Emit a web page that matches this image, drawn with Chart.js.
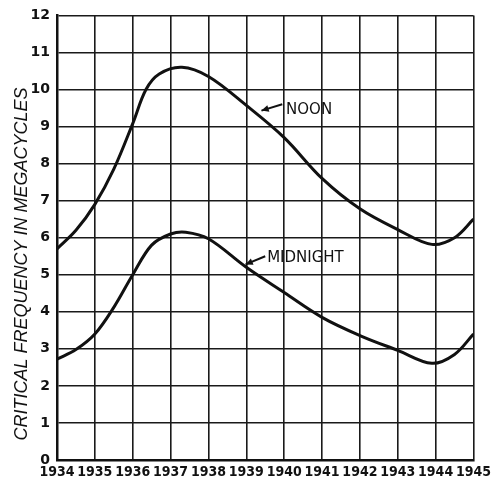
<!DOCTYPE html>
<html>
<head>
<meta charset="utf-8">
<script src="https://cdn.jsdelivr.net/npm/chart.js@4.4.0/dist/chart.umd.min.js"></script>
<style>
  html, body { margin: 0; padding: 0; background: #fff; }
  #wrap { width: 495px; height: 482px; position: relative; }
</style>
</head>
<body>
<div id="wrap"><canvas id="freqChart"></canvas></div>
<script>
// Readings taken off the old ionosphere chart (year, megacycles)
const noonYears = [1934, 1934.5, 1935, 1935.5, 1936, 1936.35, 1936.7, 1937.3, 1938, 1939, 1940, 1941, 1942, 1943, 1943.9, 1944.5, 1945];
const noonFreq  = [5.7, 6.2, 6.9, 7.85, 9.08, 10.0, 10.42, 10.6, 10.35, 9.57, 8.7, 7.6, 6.78, 6.22, 5.82, 6.0, 6.5];

const midnightYears = [1934, 1934.5, 1935, 1935.5, 1936, 1936.5, 1937, 1937.4, 1938, 1939, 1940, 1941, 1942, 1943, 1943.9, 1944.5, 1945];
const midnightFreq  = [2.72, 2.98, 3.4, 4.12, 5.0, 5.8, 6.1, 6.15, 5.97, 5.2, 4.52, 3.85, 3.36, 2.96, 2.61, 2.85, 3.4];

const yearTicks = [1934, 1935, 1936, 1937, 1938, 1939, 1940, 1941, 1942, 1943, 1944, 1945];
const freqTicks = [0, 1, 2, 3, 4, 5, 6, 7, 8, 9, 10, 11, 12];

const yTitle = "CRITICAL FREQUENCY IN MEGACYCLES";

// curve labels with little arrows: [text, textX, textY, tailX, tailY, tipX, tipY] in data units
const curveNotes = [
  ["NOON", 1940.05, 9.45, 1939.95, 9.6, 1939.4, 9.43],
  ["MIDNIGHT", 1939.55, 5.45, 1939.5, 5.5, 1938.98, 5.28]
];

const toPts = (xs, ys) => xs.map((x, i) => ({ x: x, y: ys[i] }));

const notesPlugin = {
  id: "notes",
  afterDraw(chart) {
    const { ctx, scales: { x, y } } = chart;
    ctx.save();
    ctx.fillStyle = "#111";
    ctx.strokeStyle = "#111";
    ctx.font = "15px 'DejaVu Sans', sans-serif";
    ctx.textBaseline = "middle";
    curveNotes.forEach(n => {
      ctx.fillText(n[0], x.getPixelForValue(n[1]), y.getPixelForValue(n[2]));
      const tx = x.getPixelForValue(n[3]), ty = y.getPixelForValue(n[4]);
      const hx = x.getPixelForValue(n[5]), hy = y.getPixelForValue(n[6]);
      ctx.lineWidth = 2;
      ctx.beginPath();
      ctx.moveTo(tx, ty);
      ctx.lineTo(hx, hy);
      ctx.stroke();
      const a = Math.atan2(hy - ty, hx - tx);
      ctx.beginPath();
      ctx.moveTo(hx, hy);
      ctx.lineTo(hx - 8 * Math.cos(a - 0.45), hy - 8 * Math.sin(a - 0.45));
      ctx.lineTo(hx - 8 * Math.cos(a + 0.45), hy - 8 * Math.sin(a + 0.45));
      ctx.closePath();
      ctx.fill();
    });
    // rotated axis title
    ctx.font = "italic 18px 'Liberation Sans', 'DejaVu Sans', sans-serif";
    ctx.textAlign = "center";
    ctx.translate(22, 264);
    ctx.rotate(-Math.PI / 2);
    ctx.fillText(yTitle, 0, 0);
    ctx.restore();
  }
};

new Chart(document.getElementById("freqChart"), {
  type: "line",
  data: {
    datasets: [
      { label: "Noon", data: toPts(noonYears, noonFreq), borderColor: "#111", borderWidth: 3, pointRadius: 0, tension: 0.35, fill: false },
      { label: "Midnight", data: toPts(midnightYears, midnightFreq), borderColor: "#111", borderWidth: 3, pointRadius: 0, tension: 0.35, fill: false }
    ]
  },
  options: {
    responsive: true,
    maintainAspectRatio: false,
    animation: false,
    layout: { padding: { top: 14, right: 20, left: 0, bottom: 0 } },
    plugins: { legend: { display: false }, tooltip: { enabled: false } },
    scales: {
      x: {
        type: "linear",
        min: 1934,
        max: 1945,
        afterBuildTicks: s => { s.ticks = yearTicks.map(v => ({ value: v })); },
        afterFit: s => { s.height = 22; },
        grid: { color: "#1a1a1a", lineWidth: 1.6, drawTicks: false },
        border: { color: "#111", width: 2.5 },
        ticks: {
          color: "#111",
          padding: 4,
          maxRotation: 0,
          autoSkip: false,
          font: { family: "'Liberation Sans Narrow', 'DejaVu Sans Condensed', sans-serif", size: 14, weight: "bold" },
          callback: v => String(v)
        }
      },
      y: {
        min: 0,
        max: 12,
        afterBuildTicks: s => { s.ticks = freqTicks.map(v => ({ value: v })); },
        afterFit: s => { s.width = 57; },
        grid: { color: "#1a1a1a", lineWidth: 1.6, drawTicks: false },
        border: { color: "#111", width: 2.5 },
        ticks: {
          color: "#111",
          padding: 7,
          font: { family: "'DejaVu Sans', sans-serif", size: 14, weight: "bold" }
        }
      }
    }
  },
  plugins: [notesPlugin]
});
</script>
</body>
</html>
